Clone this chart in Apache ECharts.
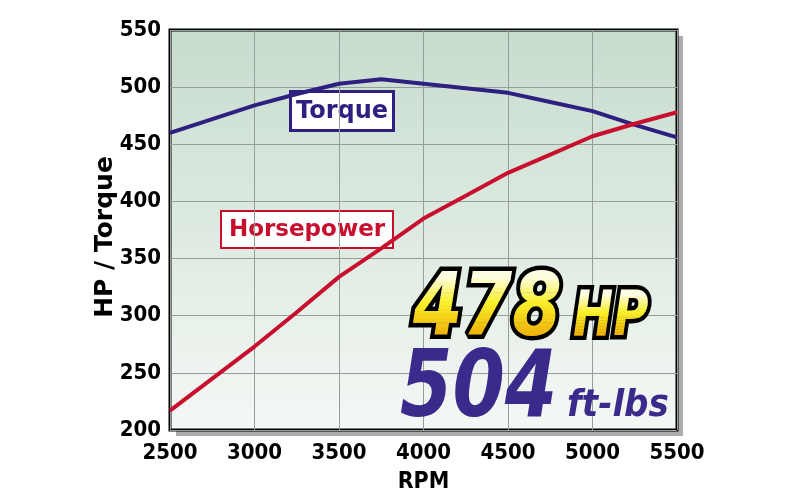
<!DOCTYPE html>
<html>
<head>
<meta charset="utf-8">
<script src="https://cdn.jsdelivr.net/npm/echarts@6/dist/echarts.min.js"></script>
<style>
  html, body { margin: 0; padding: 0; background: #fff; }
  #chart { width: 800px; height: 500px; }
</style>
</head>
<body>
<div id="chart"></div>
<script>
// dyno data (every 250 rpm)
const rpm = [2500, 2750, 3000, 3250, 3500, 3750, 4000, 4250, 4500, 4750, 5000, 5250, 5500];
const torque = [460, 472, 484, 494, 503, 507, 503, 499, 495, 487, 479, 467, 456];
const horsepower = [217, 245, 273, 303, 334, 359, 385, 405, 425, 441, 457, 468, 478];

const torqueColor = '#2e1f80';
const hpColor = '#c8102e';
const condensed = '"DejaVu Sans Condensed", "DejaVu Sans", sans-serif';

// plot box
const gridLeft = 170, gridRight = 123, gridTop = 30, gridBottom = 70;
const plotW = 800 - gridLeft - gridRight;
const plotH = 500 - gridTop - gridBottom;

const chart = echarts.init(document.getElementById('chart'));

function pairs(xs, ys) {
  return xs.map((x, i) => [x, ys[i]]);
}

const option = {
  backgroundColor: '#fff',
  animation: false,
  grid: {
    left: gridLeft,
    right: gridRight,
    top: gridTop,
    bottom: gridBottom,
    show: true,
    borderColor: '#000',
    borderWidth: 3,
    backgroundColor: new echarts.graphic.LinearGradient(0, 0, 0, 1, [
      { offset: 0, color: '#c6dccd' },
      { offset: 1, color: '#f5f8f5' }
    ])
  },
  xAxis: {
    type: 'value',
    min: 2500,
    max: 5500,
    interval: 500,
    name: 'RPM',
    nameLocation: 'middle',
    nameGap: 41,
    nameTextStyle: { fontFamily: condensed, fontWeight: 'bold', fontSize: 23, color: '#000' },
    axisLine: { show: false },
    axisTick: { show: false },
    axisLabel: { fontFamily: condensed, fontWeight: 'bold', fontSize: 22, color: '#000', margin: 12,
      formatter: v => String(v) },
    splitLine: { lineStyle: { color: '#959e98', width: 1 } }
  },
  yAxis: {
    type: 'value',
    min: 200,
    max: 550,
    interval: 50,
    name: 'HP / Torque',
    nameLocation: 'middle',
    nameGap: 52,
    nameMoveOverlap: false,
    nameTextStyle: { fontFamily: '"DejaVu Sans", sans-serif', fontWeight: 'bold', fontSize: 25, color: '#000',
      padding: [0, 14, 0, 0] },
    axisLine: { show: false },
    axisTick: { show: false },
    axisLabel: { fontFamily: condensed, fontWeight: 'bold', fontSize: 22, color: '#000', margin: 9 },
    splitLine: { lineStyle: { color: '#959e98', width: 1 } }
  },
  series: [
    {
      name: 'Torque',
      type: 'line',
      data: pairs(rpm, torque),
      symbol: 'none',
      lineStyle: { color: torqueColor, width: 4 },
      z: 3
    },
    {
      name: 'Horsepower',
      type: 'line',
      data: pairs(rpm, horsepower),
      symbol: 'none',
      lineStyle: { color: hpColor, width: 4 },
      z: 4
    }
  ],
  graphic: [
    // drop shadow behind the plot box
    { type: 'rect', z: -10, silent: true,
      shape: { x: gridLeft + 6, y: gridTop + 6, width: plotW, height: plotH },
      style: { fill: '#acacac' } },
    // series name boxes
    {
      type: 'group', left: 289, top: 90, z: 20,
      children: [
        { type: 'rect', shape: { x: 0, y: 0, width: 103, height: 39 },
          style: { fill: '#fff', stroke: torqueColor, lineWidth: 3 } },
        { type: 'text', x: 51.5, y: 20,
          style: { text: 'Torque', fill: torqueColor, font: 'bold 24px "DejaVu Sans", sans-serif',
            align: 'center', verticalAlign: 'middle' } }
      ]
    },
    {
      type: 'group', left: 220, top: 210, z: 20,
      children: [
        { type: 'rect', shape: { x: 0, y: 0, width: 172, height: 37 },
          style: { fill: '#fff', stroke: hpColor, lineWidth: 2 } },
        { type: 'text', x: 86, y: 19,
          style: { text: 'Horsepower', fill: hpColor, font: 'bold 23px "DejaVu Sans", sans-serif',
            align: 'center', verticalAlign: 'middle' } }
      ]
    },
    // torque headline
    { type: 'text', x: 400, y: 392, scaleX: 0.9, z: 30,
      style: { text: '504', font: 'italic bold 93px ' + condensed, verticalAlign: 'middle', fill: '#3a2a8c' } },
    { type: 'text', x: 567, y: 406, z: 30,
      style: { text: 'ft-lbs', font: 'italic bold 38px ' + condensed, verticalAlign: 'middle', fill: '#3a2a8c' } }
  ]
};

chart.setOption(option);

// hp headline: black outline, then the yellow fill built from thin clipped bands
// (zrender text takes only flat colours, so the gradient is stacked by hand)
const stops = [[0, [255, 254, 240]], [0.4, [249, 239, 42]], [1, [234, 160, 0]]];
function yellowAt(t) {
  let i = 0;
  while (i < stops.length - 2 && t > stops[i + 1][0]) i++;
  const a = stops[i], b = stops[i + 1];
  const k = Math.min(1, Math.max(0, (t - a[0]) / (b[0] - a[0])));
  const c = a[1].map((v, j) => Math.round(v + (b[1][j] - v) * k));
  return 'rgb(' + c.join(',') + ')';
}

function addOutlined(text, x, y, size, sx) {
  const font = 'italic bold ' + size + 'px ' + condensed;
  const zr = chart.getZr();
  zr.add(new echarts.graphic.Text({
    x: x, y: y, scaleX: sx, z: 30, silent: true,
    style: { text: text, font: font, verticalAlign: 'middle', fill: '#000', stroke: '#000', lineWidth: 9 }
  }));
  const top = -0.42 * size, bottom = 0.36 * size, bands = 16;
  const step = (bottom - top) / bands;
  for (let i = 0; i < bands; i++) {
    const y0 = i === 0 ? -size : top + i * step;
    const y1 = i === bands - 1 ? size : top + (i + 1) * step + 0.6;
    const t = new echarts.graphic.Text({
      x: x, y: y, scaleX: sx, z: 31, silent: true,
      style: { text: text, font: font, verticalAlign: 'middle', fill: yellowAt((i + 0.5) / bands) }
    });
    t.setClipPath(new echarts.graphic.Rect({ shape: { x: -20, y: y0, width: size * 4, height: y1 - y0 } }));
    zr.add(t);
  }
}

addOutlined('478', 413, 312, 88, 0.9);
addOutlined('HP', 573, 319, 62, 0.86);
</script>
</body>
</html>
